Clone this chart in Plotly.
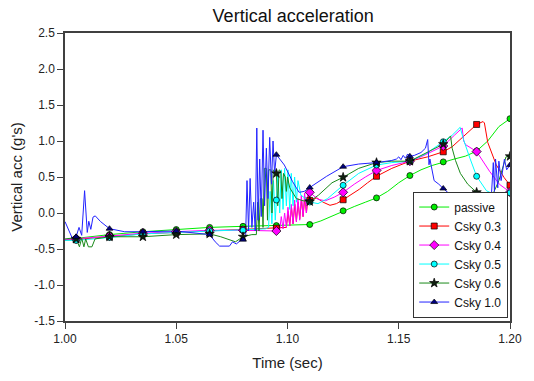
import plotly.graph_objects as go

# Marker grid (every 0.015 s)
MK_T = [1.005, 1.020, 1.035, 1.050, 1.065, 1.080, 1.095, 1.110, 1.125, 1.140, 1.155, 1.170, 1.185, 1.200]

passive_t = [1.000,1.005,1.010,1.020,1.035,1.050,1.065,1.080,1.095,1.105,1.110,1.115,1.120,1.125,1.130,1.135,1.140,1.145,1.150,1.155,1.160,1.165,1.170,1.175,1.180,1.185,1.190,1.195,1.200]
passive_v = [-0.37,-0.35,-0.33,-0.30,-0.26,-0.23,-0.20,-0.185,-0.175,-0.17,-0.16,-0.11,-0.04,0.03,0.09,0.15,0.21,0.30,0.42,0.52,0.60,0.66,0.71,0.75,0.79,0.86,1.00,1.20,1.31]

c03_t = [1.000,1.005,1.020,1.035,1.050,1.065,1.080,1.095,1.0995,1.1003,1.1010,1.1018,1.1025,1.1033,1.1040,1.1048,1.1055,1.1063,1.1070,1.1078,1.1085,1.1093,1.1100,1.1132,1.1160,1.1191,1.1220,1.1250,1.1290,1.1323,1.1360,1.1400,1.1469,1.1550,1.1630,1.1700,1.1740,1.1776,1.1815,1.1850,1.1879,1.1885,1.1900,1.1920,1.1938,1.1974,1.2000]
c03_v = [-0.38,-0.37,-0.33,-0.29,-0.27,-0.25,-0.23,-0.21,-0.20,0.02,-0.18,0.08,-0.15,0.12,-0.12,0.15,-0.08,0.18,-0.05,0.22,0.0,0.25,0.175,0.21,0.15,0.107,0.13,0.184,0.26,0.33,0.42,0.51,0.62,0.72,0.78,0.85,0.92,1.02,1.14,1.23,1.27,1.25,0.98,0.80,0.67,0.49,0.385]

c04_t = [1.000,1.005,1.020,1.035,1.050,1.065,1.080,1.095,1.0965,1.0972,1.0980,1.0987,1.0995,1.1002,1.1010,1.1017,1.1025,1.1032,1.1040,1.1047,1.1055,1.1062,1.1070,1.1077,1.1085,1.1092,1.1100,1.1137,1.1170,1.1210,1.1250,1.1300,1.1350,1.1400,1.1469,1.1550,1.1600,1.1650,1.1700,1.1750,1.1785,1.1792,1.1800,1.1850,1.1908,1.1952,1.2000]
c04_v = [-0.37,-0.36,-0.32,-0.28,-0.26,-0.24,-0.24,-0.25,-0.24,-0.05,-0.22,0.0,-0.20,0.08,-0.18,0.12,-0.15,0.18,-0.12,0.20,-0.10,0.25,-0.05,0.28,0.0,0.30,0.287,0.19,0.17,0.22,0.287,0.40,0.50,0.59,0.66,0.72,0.78,0.86,0.93,1.08,1.18,1.00,0.95,0.853,0.58,0.40,0.29]

c05_t = [1.000,1.005,1.020,1.035,1.050,1.065,1.080,1.090,1.0915,1.0922,1.0930,1.0937,1.0945,1.0950,1.0957,1.0965,1.0972,1.0980,1.0987,1.0995,1.1002,1.1010,1.1017,1.1025,1.1032,1.1040,1.1047,1.1060,1.1100,1.1137,1.1180,1.1250,1.1320,1.1400,1.1469,1.1550,1.1620,1.1700,1.1740,1.1776,1.1791,1.1820,1.1850,1.1894,1.1952,1.2000]
c05_v = [-0.38,-0.38,-0.34,-0.29,-0.27,-0.25,-0.24,-0.22,-0.20,0.30,-0.15,0.45,-0.10,0.18,0.55,0.0,0.60,0.05,0.62,0.10,0.60,0.05,0.55,0.10,0.50,0.15,0.45,0.25,0.153,0.13,0.20,0.385,0.55,0.666,0.70,0.72,0.82,0.99,1.08,1.19,1.02,0.76,0.51,0.31,0.22,0.28]

c06_t = [1.000,1.003,1.005,1.0065,1.0075,1.0085,1.0093,1.0105,1.0121,1.0135,1.020,1.035,1.050,1.065,1.0700,1.0766,1.0800,1.0840,1.0860,1.0866,1.0872,1.0878,1.0886,1.0890,1.0896,1.0905,1.0910,1.0916,1.0925,1.0930,1.0936,1.0950,1.0956,1.0962,1.0970,1.0975,1.0982,1.0990,1.0995,1.1000,1.1010,1.1040,1.1070,1.1100,1.1140,1.1200,1.1250,1.1320,1.1400,1.1469,1.1550,1.1645,1.1700,1.1733,1.1740,1.1755,1.1777,1.1810,1.1850,1.1894,1.1923,1.1950,1.1982,1.2000]
c06_v = [-0.36,-0.35,-0.36,-0.47,-0.35,-0.47,-0.36,-0.47,-0.47,-0.36,-0.33,-0.33,-0.30,-0.29,-0.33,-0.40,-0.33,-0.30,-0.30,0.15,-0.25,0.20,0.20,-0.20,0.62,0.62,-0.10,0.60,0.60,0.0,0.60,0.55,0.10,0.60,0.58,0.20,0.55,0.50,0.30,0.50,0.35,0.20,0.17,0.16,0.25,0.42,0.496,0.62,0.70,0.72,0.72,0.87,0.956,1.07,0.90,0.73,0.55,0.40,0.287,0.23,0.26,0.45,0.78,0.787]

c10_t = [1.000,1.0019,1.0034,1.005,1.0063,1.0075,1.0088,1.0100,1.0107,1.0116,1.0126,1.0136,1.0160,1.020,1.0268,1.035,1.050,1.065,1.0675,1.0695,1.0739,1.0753,1.0770,1.0790,1.0800,1.0812,1.0818,1.0825,1.0832,1.0840,1.0848,1.0855,1.0862,1.0868,1.0875,1.0882,1.0890,1.0897,1.0905,1.0912,1.0920,1.0928,1.0935,1.0942,1.0950,1.0986,1.1022,1.1052,1.1075,1.1100,1.1176,1.1250,1.1320,1.1400,1.1469,1.1490,1.1500,1.1510,1.1520,1.1530,1.1540,1.1550,1.1570,1.1600,1.1620,1.1630,1.1636,1.1640,1.1646,1.1659,1.1680,1.1700,1.1762,1.1820,1.1850,1.1894,1.1916,1.1925,1.1930,1.1935,1.1945,1.1950,1.1960,1.1975,1.1985,1.2000]
c10_v = [-0.12,-0.27,-0.36,-0.33,-0.20,-0.31,0.31,-0.27,-0.115,-0.227,-0.057,-0.04,-0.12,-0.218,-0.26,-0.26,-0.25,-0.30,-0.40,-0.46,-0.46,-0.40,-0.43,-0.38,-0.37,-0.30,0.45,-0.25,0.48,-0.20,0.15,-0.25,1.18,-0.10,0.75,-0.05,1.15,0.10,0.90,0.20,1.05,0.40,1.00,0.55,0.81,0.666,0.44,0.287,0.30,0.354,0.51,0.643,0.68,0.70,0.73,0.75,0.78,0.74,0.80,0.76,0.82,0.787,0.80,0.84,0.90,1.02,0.67,0.75,0.66,0.45,0.40,0.34,0.175,0.086,0.086,0.11,0.22,0.70,0.30,0.75,0.35,0.72,0.45,0.75,0.60,0.666]

SERIES = [
    ("passive",  passive_t, passive_v, "#00ee00", "circle",      "#00ee00", 6),
    ("Csky 0.3", c03_t, c03_v, "#ff0000", "square",      "#ff0000", 6),
    ("Csky 0.4", c04_t, c04_v, "#ff00ff", "diamond",     "#ff00ff", 7),
    ("Csky 0.5", c05_t, c05_v, "#00ffff", "circle",      "#00ffff", 6),
    ("Csky 0.6", c06_t, c06_v, "#1a8a1a", "star",        "#102010", 7),
    ("Csky 1.0", c10_t, c10_v, "#2222ff", "triangle-up", "#000080", 6),
]

FONT = "Liberation Sans, Arial, sans-serif"
fig = go.Figure()

for name, T, V, lc, sym, mc, ms in SERIES:
    fig.add_trace(go.Scatter(x=T, y=V, mode="lines", line=dict(color=lc, width=1),
                             legendgroup=name, showlegend=False, hoverinfo="skip"))
for name, T, V, lc, sym, mc, ms in SERIES:
    mt = [t for t in T if any(abs(t - m) < 1e-9 for m in MK_T)]
    mv = [v for t, v in zip(T, V) if any(abs(t - m) < 1e-9 for m in MK_T)]
    fig.add_trace(go.Scatter(x=mt, y=mv, mode="markers",
                             marker=dict(symbol=sym, size=ms, color=mc,
                                         line=dict(color="#000000", width=0.7)),
                             legendgroup=name, showlegend=False))
for name, T, V, lc, sym, mc, ms in SERIES:
    fig.add_trace(go.Scatter(x=[None], y=[None], mode="lines+markers", name=name,
                             line=dict(color=lc, width=1),
                             marker=dict(symbol=sym, size=ms, color=mc,
                                         line=dict(color="#000000", width=0.7)),
                             legendgroup=name))

axis_common = dict(showgrid=False, zeroline=False, showline=True, linecolor="#404040",
                   linewidth=1.5, mirror=True, ticks="outside", ticklen=6, tickwidth=1.2,
                   tickcolor="#404040", tickfont=dict(family=FONT, size=12, color="#222"))

fig.update_xaxes(range=[1.0, 1.2], tickvals=[1.00, 1.05, 1.10, 1.15, 1.20],
                 ticktext=["1.00", "1.05", "1.10", "1.15", "1.20"],
                 title=dict(text="Time (sec)", font=dict(family=FONT, size=15, color="#222"), standoff=12),
                 **axis_common)
fig.update_yaxes(range=[-1.5, 2.5], tickvals=[-1.5, -1.0, -0.5, 0.0, 0.5, 1.0, 1.5, 2.0, 2.5],
                 ticktext=["-1.5", "-1.0", "-0.5", "0.0", "0.5", "1.0", "1.5", "2.0", "2.5"],
                 title=dict(text="Vertical acc (g's)", font=dict(family=FONT, size=15, color="#222"), standoff=8),
                 **axis_common)

fig.update_layout(
    width=534, height=381,
    margin=dict(l=65, r=13, t=33, b=49),
    paper_bgcolor="white", plot_bgcolor="white",
    title=dict(text="Vertical acceleration", x=0.549, xanchor="center", y=1 - 16 / 381,
               yanchor="middle", yref="container", font=dict(family=FONT, size=18, color="#111")),
    legend=dict(x=0.996, y=0.012, xanchor="right", yanchor="bottom",
                bgcolor="white", bordercolor="#333", borderwidth=1,
                font=dict(family=FONT, size=12, color="#111"),
                tracegroupgap=0, itemwidth=30),
    showlegend=True,
)

fig.write_html("out.html")
